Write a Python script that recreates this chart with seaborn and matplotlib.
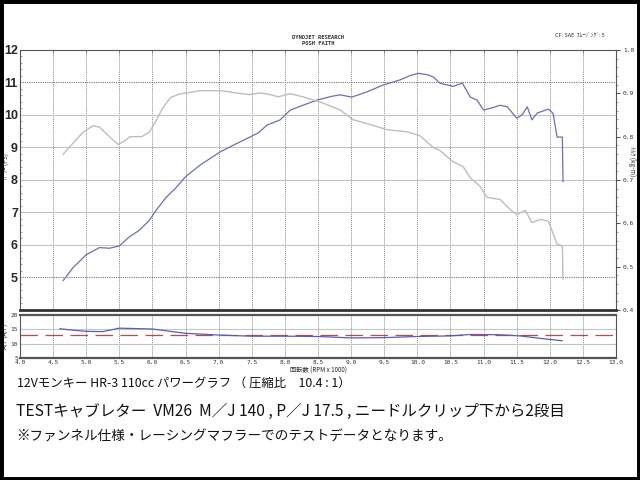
import matplotlib
matplotlib.use("Agg")
import matplotlib.pyplot as plt
import pandas as pd
import seaborn as sns
from matplotlib.patches import Rectangle

# power curve (PS) vs rpm x1000
rpm_power = [4.65, 4.8, 5.0, 5.2, 5.35, 5.5, 5.65, 5.8, 5.95, 6.05, 6.2, 6.35, 6.5,
             6.72, 7.02, 7.25, 7.47, 7.6, 7.73, 7.93, 8.08, 8.3, 8.49, 8.7, 8.83,
             9.01, 9.24, 9.48, 9.74, 9.9, 10.02, 10.15, 10.24, 10.34, 10.54, 10.68,
             10.8, 10.9, 11.0, 11.13, 11.25, 11.36, 11.5, 11.58, 11.66, 11.73,
             11.81, 11.98, 12.05, 12.11, 12.19, 12.2]
power_ps = [4.9, 5.3, 5.7, 5.92, 5.9, 5.97, 6.25, 6.45, 6.75, 7.05, 7.45, 7.75, 8.1,
            8.46, 8.86, 9.1, 9.32, 9.45, 9.69, 9.85, 10.15, 10.32, 10.46, 10.57, 10.62,
            10.55, 10.71, 10.92, 11.08, 11.22, 11.28, 11.24, 11.17, 10.98, 10.88, 10.98,
            10.55, 10.46, 10.15, 10.22, 10.3, 10.25, 9.9, 10.0, 10.25, 9.85,
            10.06, 10.18, 10.05, 9.32, 9.32, 7.94]

# torque curve (kg-m)
rpm_torque = [4.65, 4.8, 4.95, 5.1, 5.2, 5.35, 5.48, 5.58, 5.66, 5.84, 5.95, 6.05,
              6.15, 6.27, 6.4, 6.52, 6.72, 7.02, 7.13, 7.3, 7.47, 7.63, 7.78, 7.9,
              8.08, 8.27, 8.53, 8.83, 9.03, 9.29, 9.54, 9.85, 10.04, 10.24, 10.34,
              10.54, 10.69, 10.8, 10.95, 11.05, 11.25, 11.4, 11.5, 11.63, 11.73,
              11.86, 11.98, 12.11, 12.19, 12.2]
torque_kgm = [0.759, 0.785, 0.81, 0.825, 0.822, 0.80, 0.782, 0.79, 0.80, 0.80, 0.81,
              0.835, 0.865, 0.89, 0.898, 0.901, 0.906, 0.906, 0.904, 0.90, 0.897,
              0.901, 0.897, 0.892, 0.899, 0.892, 0.88, 0.862, 0.839, 0.828, 0.816,
              0.811, 0.802, 0.775, 0.768, 0.742, 0.731, 0.705, 0.685, 0.66, 0.655,
              0.632, 0.62, 0.63, 0.602, 0.609, 0.605, 0.552, 0.548, 0.471]

# air/fuel ratio
rpm_afr = [4.6, 4.8, 5.0, 5.25, 5.5, 6.0, 6.5, 7.0, 7.5, 8.0, 8.5, 9.0, 9.5, 10.0,
           10.5, 10.8, 11.25, 11.55, 11.95, 12.19]
afr = [15.2, 14.7, 14.3, 14.2, 15.4, 15.1, 13.6, 13.0, 12.6, 12.6, 12.5, 12.0, 12.1,
       12.5, 12.7, 13.2, 13.1, 12.7, 11.6, 11.0]
afr_target = 13.0

rpm_ticks = [4.0 + 0.5 * i for i in range(19)]

sns.set_style("white")
plt.rcParams["font.family"] = ["Noto Sans CJK JP", "DejaVu Sans"]

fig = plt.figure(figsize=(6.4, 4.8), dpi=100)

# --- main power / torque chart
ax = fig.add_axes([0.03125, 0.3542, 0.93125, 0.5417])
for x in rpm_ticks[1:-1]:
    ax.axvline(x, color="#8a8a8a", lw=0.7, ls=(0, (1, 1)), zorder=0)
for y in [6, 7, 8, 9, 10]:
    ax.axhline(y, color="#c4c4c4", lw=0.8, zorder=0)
for y in [5, 11]:
    ax.axhline(y, color="#777777", lw=0.8, ls=(0, (1, 1)), zorder=0)

df_p = pd.DataFrame({"rpm": rpm_power, "ps": power_ps})
sns.lineplot(data=df_p, x="rpm", y="ps", ax=ax, color="#6a70b0", lw=0.9, sort=False)
ax.set_xlim(4.0, 13.0)
ax.set_ylim(4.0, 12.0)
ax.set_xticks(rpm_ticks)
ax.set_xticklabels([])
ax.set_yticks(range(5, 13))
ax.set_yticklabels([str(v) for v in range(5, 13)], fontsize=9, fontweight="bold",
                   family=["Liberation Sans", "DejaVu Sans"])
ax.set_yticks([4 + 0.2 * i for i in range(41)], minor=True)
ax.tick_params(axis="y", which="major", length=0, pad=1.5)
ax.tick_params(axis="y", which="minor", length=1.5, width=0.4, direction="in",
               color="#666666")
ax.tick_params(axis="x", length=2, width=0.5, direction="in", top=True, bottom=False,
               color="#666666")
ax.set_xlabel("")
ax.set_ylabel("")
for s in ax.spines.values():
    s.set_color("#555555")
    s.set_linewidth(0.8)
ax.spines["bottom"].set_linewidth(2.0)
ax.spines["bottom"].set_color("#333333")

ax2 = ax.twinx()
df_t = pd.DataFrame({"rpm": rpm_torque, "kgm": torque_kgm})
sns.lineplot(data=df_t, x="rpm", y="kgm", ax=ax2, color="#bdbdbd", lw=1.0, sort=False)
ax2.set_ylim(0.4, 1.0)
ax2.set_yticks([0.4, 0.5, 0.6, 0.7, 0.8, 0.9, 1.0])
ax2.set_yticklabels(["0.4", "0.5", "0.6", "0.7", "0.8", "0.9", "1.0"], fontsize=4.5,
                    family="DejaVu Sans Mono")
ax2.set_yticks([0.4 + 0.02 * i for i in range(31)], minor=True)
ax2.tick_params(axis="y", which="major", length=3, width=0.6, pad=2, colors="#333333")
ax2.tick_params(axis="y", which="minor", length=1.5, width=0.4, color="#555555")
ax2.set_ylabel("")
for s in ax2.spines.values():
    s.set_visible(False)

# --- air / fuel strip
axa = fig.add_axes([0.03125, 0.2542, 0.93125, 0.0896])
for x in rpm_ticks[1:-1]:
    axa.axvline(x, color="#8a8a8a", lw=0.7, ls=(0, (1, 1)), zorder=0)
for y in [10, 15]:
    axa.axhline(y, color="#c4c4c4", lw=0.8, zorder=0)
axa.axhline(afr_target, color="#c04848", lw=0.9, ls=(0, (14, 6)), zorder=1)
df_a = pd.DataFrame({"rpm": rpm_afr, "afr": afr})
sns.lineplot(data=df_a, x="rpm", y="afr", ax=axa, color="#5a5cb8", lw=0.9, sort=False)
axa.set_xlim(4.0, 13.0)
axa.set_ylim(5, 20)
axa.set_yticks([5, 10, 15, 20])
axa.set_yticklabels(["5", "10", "15", "20"], fontsize=4.5, family="DejaVu Sans Mono")
axa.set_xticks(rpm_ticks)
axa.set_xticklabels([f"{v:.1f}" for v in rpm_ticks], fontsize=4.5,
                    family="DejaVu Sans Mono")
axa.tick_params(axis="both", length=0, pad=1.5, colors="#333333")
axa.set_xlabel("回転数 (RPM x 1000)", fontsize=4.5, labelpad=1)
axa.set_ylabel("A/F (A/F)", fontsize=4.5, labelpad=1)
for s in axa.spines.values():
    s.set_color("#555555")
    s.set_linewidth(0.8)
axa.spines["top"].set_linewidth(1.6)
axa.spines["bottom"].set_linewidth(1.6)

# --- header and axis captions
fig.text(0.497, 0.922, "DYNOJET RESEARCH", fontsize=4, ha="center", va="center",
         family="DejaVu Sans Mono", fontweight="bold", color="#333333")
fig.text(0.497, 0.909, "POSH FAITH", fontsize=4, ha="center", va="center",
         family="DejaVu Sans Mono", fontweight="bold", color="#333333")
fig.text(0.945, 0.924, "CF: SAE  ｽﾑｰｼﾞﾝｸﾞ: 5", fontsize=4, ha="right", va="center",
         color="#333333")
fig.text(0.011, 0.655, "ﾊﾟﾜｰ (PS)", fontsize=4.5, rotation=90, ha="center",
         va="center", color="#333333")
fig.text(0.987, 0.665, "ﾄﾙｸ (kg-m)", fontsize=4.5, rotation=270, ha="center",
         va="center", color="#333333")

# --- notes below the chart
fig.text(0.027, 0.201, "12Vモンキー HR-3 110cc パワーグラフ （ 圧縮比　10.4 : 1）",
         fontsize=8.9, ha="left", va="center", color="#111111")
fig.text(0.025, 0.143,
         "TESTキャブレター  VM26  M／J 140 , P／J 17.5 , ニードルクリップ下から2段目",
         fontsize=11.2, ha="left", va="center", color="#111111")
fig.text(0.025, 0.091, "※ファンネル仕様・レーシングマフラーでのテストデータとなります。",
         fontsize=9.8, ha="left", va="center", color="#111111")

fig.patches.append(Rectangle((0, 0), 1, 1, transform=fig.transFigure, fill=False,
                             edgecolor="black", lw=5, zorder=10))

fig.savefig("out.png", dpi=100)
